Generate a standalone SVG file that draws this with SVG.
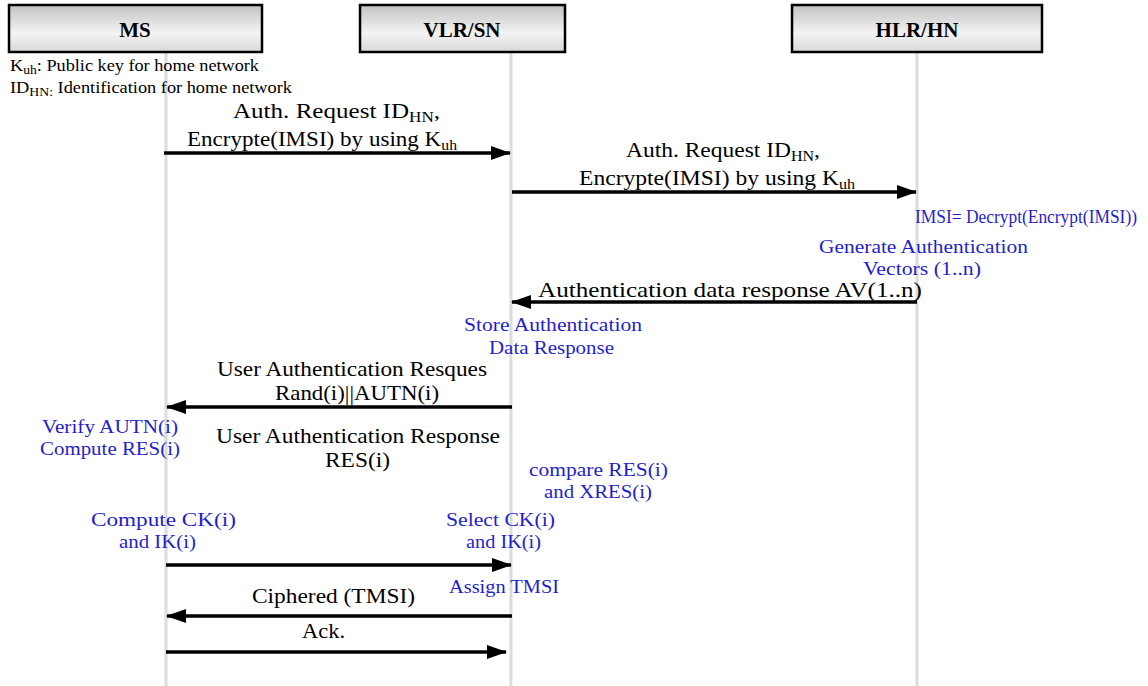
<svg xmlns="http://www.w3.org/2000/svg" width="1148" height="686" viewBox="0 0 1148 686">
<defs>
<linearGradient id="hdr" x1="0" y1="0" x2="0" y2="1">
<stop offset="0" stop-color="#c2c2c2"/>
<stop offset="0.6" stop-color="#f3f3f3"/>
<stop offset="1" stop-color="#d8d8d8"/>
</linearGradient>
<marker id="ah" viewBox="0 0 20 14" refX="19" refY="7" markerWidth="20" markerHeight="14" markerUnits="userSpaceOnUse" orient="auto">
<path d="M0,0 L20,7 L0,14 Z" fill="#000"/>
</marker>
<style>
.box{fill:url(#hdr);stroke:#000;stroke-width:2.5}
.hd{font-family:"Liberation Serif",serif;font-weight:bold;font-size:21px;text-anchor:middle;fill:#000}
.life{stroke:#dcdcdc;stroke-width:3}
.msg{stroke:#000;stroke-width:3.5;fill:none;marker-end:url(#ah)}
.t{font-family:"Liberation Serif",serif;font-size:22px;fill:#000}
.b{font-family:"Liberation Serif",serif;font-size:19px;fill:#1f1fcc}
.s{font-family:"Liberation Serif",serif;font-size:16px;fill:#000}
.sub{font-size:12px}
</style>
</defs>
<rect width="1148" height="686" fill="#fff"/>
<g id="lifelines">
<line class="life" x1="166" y1="52" x2="166" y2="686"/>
<line class="life" x1="511" y1="52" x2="511" y2="686"/>
<line class="life" x1="917" y1="52" x2="917" y2="686"/>
</g>
<g id="node-ms">
<rect class="box" x="9" y="5" width="253" height="47"/>
<text class="hd" x="135" y="37">MS</text>
</g>
<g id="node-vlr">
<rect class="box" x="360" y="5" width="205" height="47"/>
<text class="hd" x="462" y="37">VLR/SN</text>
</g>
<g id="node-hlr">
<rect class="box" x="792" y="5" width="250" height="47"/>
<text class="hd" x="917" y="37">HLR/HN</text>
</g>
<g id="legend">
<text class="s" x="10" y="71" textLength="249" lengthAdjust="spacingAndGlyphs">K<tspan class="sub" dy="3">uh</tspan><tspan dy="-3">: Public key for home network</tspan></text>
<text class="s" x="10" y="93" textLength="282" lengthAdjust="spacingAndGlyphs">ID<tspan class="sub" dy="3">HN:</tspan><tspan dy="-3"> Identification for home network</tspan></text>
</g>
<g id="connectors">
<line class="msg" x1="164" y1="153" x2="510" y2="153"/>
<line class="msg" x1="512" y1="192" x2="916" y2="192"/>
<line class="msg" x1="917" y1="302" x2="512" y2="302"/>
<line class="msg" x1="512" y1="407" x2="167" y2="407"/>
<line class="msg" x1="166" y1="565" x2="511" y2="565"/>
<line class="msg" x1="512" y1="616" x2="167" y2="616"/>
<line class="msg" x1="166" y1="652" x2="506" y2="652"/>
</g>
<g id="labels">
<text class="t" x="233" y="118" textLength="207" lengthAdjust="spacingAndGlyphs">Auth. Request ID<tspan font-size="15" dy="4">HN</tspan><tspan dy="-4">,</tspan></text>
<text class="t" x="187" y="146" textLength="270" lengthAdjust="spacingAndGlyphs">Encrypte(IMSI) by using K<tspan font-size="15" dy="4">uh</tspan></text>
<text class="t" x="626" y="157" textLength="194" lengthAdjust="spacingAndGlyphs">Auth. Request ID<tspan font-size="15" dy="4">HN</tspan><tspan dy="-4">,</tspan></text>
<text class="t" x="579" y="185" textLength="276" lengthAdjust="spacingAndGlyphs">Encrypte(IMSI) by using K<tspan font-size="15" dy="4">uh</tspan></text>
<text class="t" x="538" y="297" textLength="384" lengthAdjust="spacingAndGlyphs">Authentication data response AV(1..n)</text>
<text class="t" x="217" y="376" textLength="270" lengthAdjust="spacingAndGlyphs">User Authentication Resques</text>
<text class="t" x="275" y="400" textLength="164" lengthAdjust="spacingAndGlyphs">Rand(i)||AUTN(i)</text>
<text class="t" x="216" y="443" textLength="284" lengthAdjust="spacingAndGlyphs">User Authentication Response</text>
<text class="t" x="325" y="467" textLength="65" lengthAdjust="spacingAndGlyphs">RES(i)</text>
<text class="t" x="252" y="603" textLength="163" lengthAdjust="spacingAndGlyphs">Ciphered (TMSI)</text>
<text class="t" x="302" y="638" textLength="43" lengthAdjust="spacingAndGlyphs">Ack.</text>
</g>
<g id="actions">
<text class="b" x="915" y="223" font-size="15" textLength="222" lengthAdjust="spacingAndGlyphs">IMSI= Decrypt(Encrypt(IMSI))</text>
<text class="b" x="819" y="253" textLength="209" lengthAdjust="spacingAndGlyphs">Generate Authentication</text>
<text class="b" x="863" y="275" textLength="118" lengthAdjust="spacingAndGlyphs">Vectors (1..n)</text>
<text class="b" x="464" y="331" textLength="178" lengthAdjust="spacingAndGlyphs">Store Authentication</text>
<text class="b" x="489" y="354" textLength="125" lengthAdjust="spacingAndGlyphs">Data Response</text>
<text class="b" x="42" y="433" textLength="136" lengthAdjust="spacingAndGlyphs">Verify AUTN(i)</text>
<text class="b" x="40" y="455" textLength="140" lengthAdjust="spacingAndGlyphs">Compute RES(i)</text>
<text class="b" x="529" y="476" textLength="139" lengthAdjust="spacingAndGlyphs">compare RES(i)</text>
<text class="b" x="544" y="498" textLength="108" lengthAdjust="spacingAndGlyphs">and XRES(i)</text>
<text class="b" x="91" y="526" textLength="145" lengthAdjust="spacingAndGlyphs">Compute CK(i)</text>
<text class="b" x="119" y="548" textLength="77" lengthAdjust="spacingAndGlyphs">and IK(i)</text>
<text class="b" x="446" y="526" textLength="109" lengthAdjust="spacingAndGlyphs">Select CK(i)</text>
<text class="b" x="466" y="548" textLength="75" lengthAdjust="spacingAndGlyphs">and IK(i)</text>
<text class="b" x="449" y="593" textLength="110" lengthAdjust="spacingAndGlyphs">Assign TMSI</text>
</g>
</svg>
